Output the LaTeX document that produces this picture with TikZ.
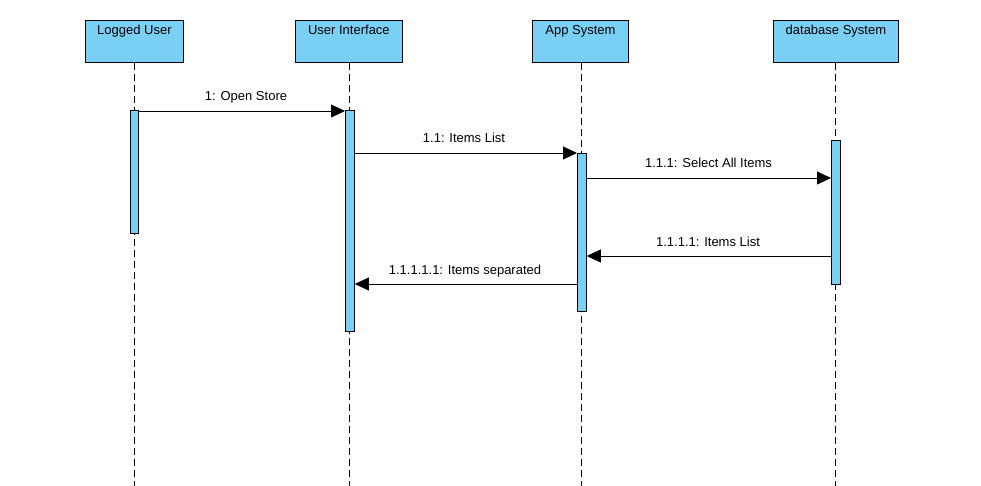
\documentclass[tikz,border=0pt]{standalone}
\usepackage{fontspec}
\setmainfont{Liberation Sans}
\usetikzlibrary{arrows.meta}
\definecolor{actfill}{RGB}{122,207,245}
\begin{document}
\begin{tikzpicture}[x=1pt,y=-1pt,
  head/.style={draw=black,fill=actfill,line width=0.8pt,minimum height=42pt,inner sep=0pt,anchor=north west},
  headtxt/.style={anchor=base,inner sep=0pt,font=\fontsize{13}{15}\selectfont},
  act/.style={draw=black,fill=actfill,line width=0.8pt,inner sep=0pt,anchor=north west},
  life/.style={draw=black,line width=0.8pt,dash pattern=on 7pt off 4pt},
  msg/.style={draw=black,line width=0.8pt,-{Triangle[length=14pt,width=13pt]}},
  lbl/.style={font=\fontsize{13}{15}\selectfont,inner sep=0pt,anchor=base}]
\useasboundingbox (0,0) rectangle (981,486);
% heads
\node[head,minimum width=98pt] (h1) at (85,20) {};
\node[head,minimum width=107pt] (h2) at (295,20) {};
\node[head,minimum width=96pt] (h3) at (532,20) {};
\node[head,minimum width=125pt] (h4) at (773,20) {};
\node[headtxt] (t1) at ([yshift=-14.5pt]h1.north) {Logged User};
\node[headtxt] (t2) at ([yshift=-14.5pt]h2.north) {User Interface};
\node[headtxt] (t3) at ([yshift=-14.5pt]h3.north) {App System};
\node[headtxt] (t4) at ([yshift=-14.5pt]h4.north) {database System};
% lifeline ends
\coordinate (e1) at (134,486);
\coordinate (e2) at (349,486);
\coordinate (e3) at (581,486);
\coordinate (e4) at (835,486);
\draw[life] (h1.south -| e1) -- (e1);
\draw[life] (h2.south -| e2) -- (e2);
\draw[life] (h3.south -| e3) -- (e3);
\draw[life] (h4.south -| e4) -- (e4);
% activations
\node[act,minimum width=8pt,minimum height=123pt] (a1) at (130,110) {};
\node[act,minimum width=9pt,minimum height=221pt] (a2) at (345,110) {};
\node[act,minimum width=9pt,minimum height=158pt] (a3) at (577,153) {};
\node[act,minimum width=9pt,minimum height=144pt] (a4) at (831,140) {};
% message levels
\coordinate (y1) at (0,111);
\coordinate (y2) at (0,153);
\coordinate (y3) at (0,178);
\coordinate (y4) at (0,256);
\coordinate (y5) at (0,284);
\draw[msg] (a1.east |- y1) -- (a2.west |- y1);
\draw[msg] (a2.east |- y2) -- (a3.west |- y2);
\draw[msg] (a3.east |- y3) -- (a4.west |- y3);
\draw[msg] (a4.west |- y4) -- (a3.east |- y4);
\draw[msg] (a3.west |- y5) -- (a2.east |- y5);
% labels
\node[lbl] (l1) at (246,101) {1: Open Store};
\node[lbl] (l2) at (464,143) {1.1: Items List};
\node[lbl] (l3) at (708.5,168) {1.1.1: Select All Items};
\node[lbl] (l4) at (708,246) {1.1.1.1: Items List};
\node[lbl] (l5) at (465,274) {1.1.1.1.1: Items separated};
\end{tikzpicture}
\end{document}
